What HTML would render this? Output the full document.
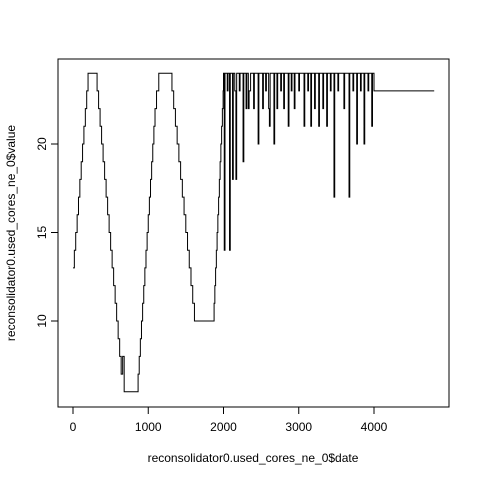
<!DOCTYPE html>
<html><head><meta charset="utf-8"><style>
body{margin:0;background:#fff}
svg text{font-family:"Liberation Sans",sans-serif;font-size:12px;fill:#000}
</style></head><body>
<svg width="480" height="480" id="c">
<rect x="58" y="59" width="391" height="348" fill="none" stroke="#000"/>
<g id="xa"></g>
<g id="ya"></g>
<path id="ln" fill="none" stroke="#000" stroke-width="1"/>
<text x="253" y="462" text-anchor="middle">reconsolidator0.used_cores_ne_0$date</text>
<text transform="translate(15,233) rotate(-90)" text-anchor="middle">reconsolidator0.used_cores_ne_0$value</text>
</svg>
<script>
const xTicks=[0,1000,2000,3000,4000];
const yTicks=[10,15,20];
const dates=[0,18,36,55,73,91,109,127,145,164,182,200,
320,340,360,380,400,420,440,460,480,500,520,540,560,580,600,620,640,660,680,
865,880,895,910,925,940,955,970,985,1000,1015,1030,1045,1060,1075,1090,1110,1140,
1315,1338,1361,1384,1407,1430,1453,1476,1499,1522,1545,1568,1591,1614,1635,
1875,1885,1895,1905,1915,1925,1935,1945,1955,1965,1975,1985,1995,2000,
2010,2020,2050,2060,2080,2090,2120,2130,2150,2165,2175,2210,2220,2260,2270,2300,2310,2330,2340,2360,2400,2410,2460,2470,2520,2530,2560,2570,2600,2610,2620,2670,2680,2710,2720,2760,2770,2800,2810,2860,2870,2900,2910,2940,2950,3000,3010,3070,3080,3120,3130,3160,3170,3210,3220,3265,3275,3320,3330,3371,3381,3420,3430,3468,3478,3520,3530,3600,3610,3668,3678,3720,3730,3770,3780,3820,3830,3867,3877,3920,3930,3970,3980,4000,4800];
const values=[13,14,15,16,17,18,19,20,21,22,23,24,
23,22,21,20,19,18,17,16,15,14,13,12,11,10,9,8,7,8,6,
7,8,9,10,11,12,13,14,15,16,17,18,19,20,21,22,23,24,
23,22,21,20,19,18,17,16,15,14,13,12,11,10,10,
11,12,13,14,15,16,17,18,19,20,21,22,23,24,
14,24,23,24,14,24,18,24,23,18,24,23,24,19,24,22,24,22,23,24,22,24,20,24,22,24,23,24,22,21,24,20,24,22,24,23,24,22,24,21,24,23,24,22,24,23,24,21,24,23,24,21,24,22,24,21,24,22,24,21,24,23,24,17,24,23,24,22,24,17,24,23,24,20,24,23,24,20,24,23,24,21,24,23,23];
const X=v=>73+v*0.07525, Y=v=>321-(v-10)*17.7;
const ns="http://www.w3.org/2000/svg";
let d="M"+X(dates[0])+" "+Y(values[0]);
for(let i=1;i<dates.length;i++){d+=" H"+X(dates[i]).toFixed(2)+" V"+Y(values[i]).toFixed(2);}
document.getElementById('ln').setAttribute('d',d);
function mk(t,a,p){const e=document.createElementNS(ns,t);for(const k in a)e.setAttribute(k,a[k]);p.appendChild(e);return e;}
const xa=document.getElementById('xa'),ya=document.getElementById('ya');
mk('line',{x1:X(xTicks[0]),x2:X(xTicks[xTicks.length-1]),y1:407,y2:407,stroke:'#000'},xa);
xTicks.forEach(t=>{mk('line',{x1:X(t),x2:X(t),y1:407,y2:414,stroke:'#000'},xa);
const e=mk('text',{x:X(t),y:431,'text-anchor':'middle'},xa);e.textContent=t;

});
mk('line',{x1:58,x2:58,y1:Y(yTicks[0]),y2:Y(yTicks[yTicks.length-1]),stroke:'#000'},ya);
yTicks.forEach(t=>{mk('line',{x1:51,x2:58,y1:Y(t),y2:Y(t),stroke:'#000'},ya);
const e=mk('text',{transform:`translate(46,${Y(t)}) rotate(-90)`,'text-anchor':'middle'},ya);e.textContent=t;

});
</script>
</body></html>
